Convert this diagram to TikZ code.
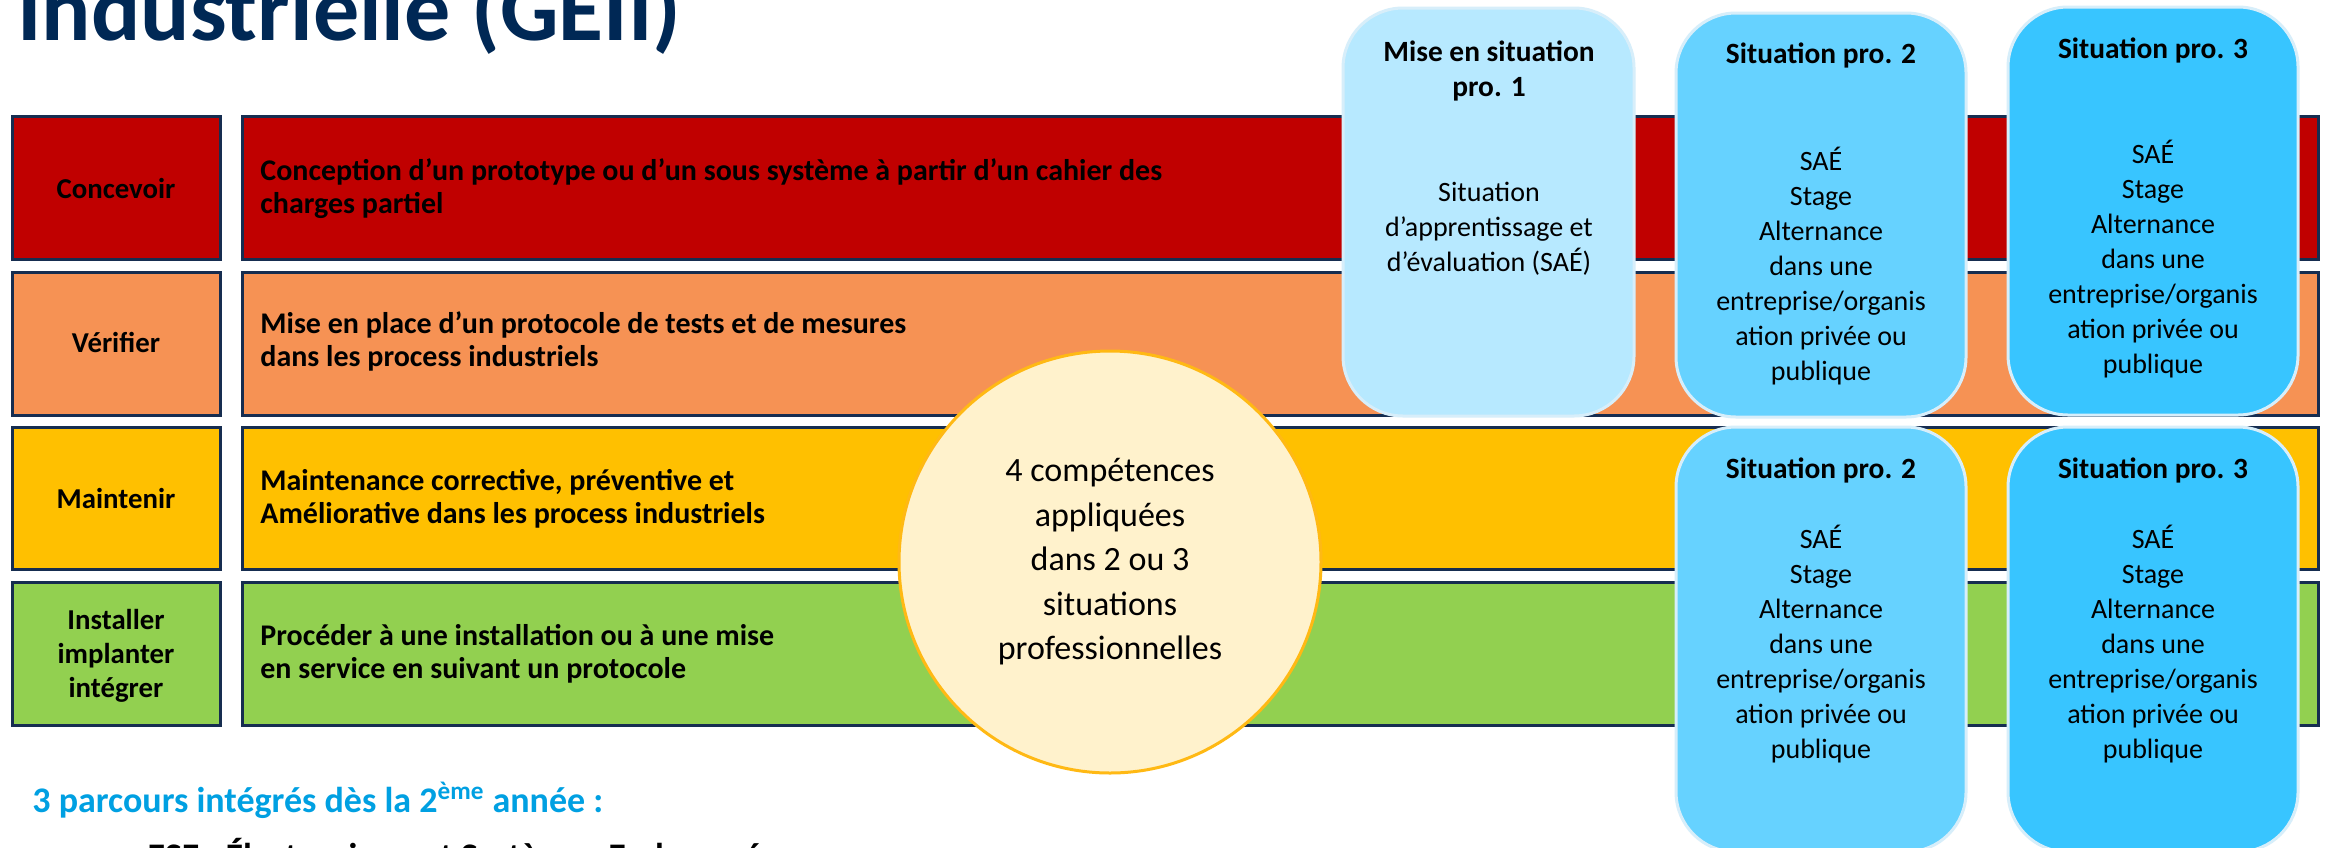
\documentclass[tikz,border=0pt]{standalone}
\usepackage{fontspec}
\setmainfont{Carlito}
\usetikzlibrary{fit}
\definecolor{navy}{RGB}{0,40,85}
\definecolor{bordc}{RGB}{22,45,80}
\definecolor{cred}{RGB}{192,0,0}
\definecolor{corange}{RGB}{246,146,84}
\definecolor{cyellow}{RGB}{255,192,0}
\definecolor{cgreen}{RGB}{146,208,80}
\definecolor{circfill}{RGB}{255,242,204}
\definecolor{circline}{RGB}{255,185,20}
\definecolor{sitA}{RGB}{183,233,255}
\definecolor{sitB}{RGB}{102,210,255}
\definecolor{sitC}{RGB}{56,197,255}
\definecolor{sitline}{RGB}{215,238,250}
\definecolor{bluetxt}{RGB}{0,160,226}
\begin{document}
\begin{tikzpicture}[x=0.5pt,y=-0.5pt,
  barbox/.style={draw=bordc, line width=1.5pt, inner sep=0pt},
  bartext/.style={anchor=base west, inner sep=0pt, align=left, font=\bfseries\fontsize{15}{16.5}\selectfont},
  lbltext/.style={anchor=base, inner sep=0pt, align=center, font=\bfseries\fontsize{14.4}{17}\selectfont},
  sitbox/.style={draw=sitline, line width=1.5pt, inner sep=0pt, rounded corners=30pt},
  sithead/.style={anchor=base, inner sep=0pt, align=center, font=\bfseries\fontsize{14.7}{17.5}\selectfont},
  sitbody/.style={anchor=base, inner sep=0pt, align=center, font=\fontsize{14}{17.5}\selectfont},
  bottomtext/.style={anchor=base west, inner sep=0pt, font=\bfseries\fontsize{18}{21}\selectfont}
]
\useasboundingbox (0,0) rectangle (2328,847);
\fill[white] (0,0) rectangle (2328,847);

% title
\node[anchor=base west, inner sep=0pt, text=navy, font=\bfseries\fontsize{46}{52}\selectfont] (title) at (17,40) {Industrielle (GEII)};

% rows
\node[barbox, fill=cred, fit={(12,116) (220,259)}] (lc) {};
\node[barbox, fill=cred, fit={(242,116) (2318,259)}] (mc) {};
\node[barbox, fill=corange, fit={(12,272) (220,415)}] (lv) {};
\node[barbox, fill=corange, fit={(242,272) (2318,415)}] (mv) {};
\node[barbox, fill=cyellow, fit={(12,427) (220,569)}] (lm) {};
\node[barbox, fill=cyellow, fit={(242,427) (2318,569)}] (mm) {};
\node[barbox, fill=cgreen, fit={(12,582) (220,725)}] (li) {};
\node[barbox, fill=cgreen, fit={(242,582) (2318,725)}] (mi) {};

\node[lbltext] (tlc) at (116,198) {Concevoir};
\node[lbltext] (tlv) at (116,352) {Vérifier};
\node[lbltext] (tlm) at (116,508) {Maintenir};
\node[lbltext] (tli) at (116,697) {Installer\\implanter\\intégrer};

\node[bartext] (tmc) at (260,213) {Conception d’un prototype ou d’un sous système à partir d’un cahier des\\charges partiel};
\node[bartext] (tmv) at (260,366) {Mise en place d’un protocole de tests et de mesures\\dans les process industriels};
\node[bartext] (tmm) at (260,523) {Maintenance corrective, préventive et\\Améliorative dans les process industriels};
\node[bartext] (tmi) at (260,678) {Procéder à une installation ou à une mise\\en service en suivant un protocole};

% circle
\node[circle, draw=circline, line width=1.5pt, fill=circfill, minimum size=211pt, inner sep=0pt, align=center, font=\fontsize{17}{22.25}\selectfont] (circ) at (1110,562) {4 compétences\\appliquées\\dans 2 ou 3\\situations\\professionnelles};

% situation boxes
\node[sitbox, fill=sitA, fit={(1343,8) (1634,416)}] (s1) {};
\node[sithead] (s1h) at (1489,96) {Mise en situation\\pro. 1};
\node[sitbody] (s1b) at (1489,271) {Situation\\d’apprentissage et\\d’évaluation (SAÉ)};

\node[sitbox, fill=sitB, fit={(1676,13) (1966,417)}] (s2) {};
\node[sithead] (s2h) at (1821,63) {Situation pro. 2};
\node[sitbody] (s2b) at (1821,380) {SAÉ\\Stage\\Alternance\\dans une\\entreprise/organis\\ation privée ou\\publique};

\node[sitbox, fill=sitC, fit={(2008,7) (2298,415)}] (s3) {};
\node[sithead] (s3h) at (2153,58) {Situation pro. 3};
\node[sitbody] (s3b) at (2153,373) {SAÉ\\Stage\\Alternance\\dans une\\entreprise/organis\\ation privée ou\\publique};

\node[sitbox, fill=sitB, fit={(1676,427) (1966,852)}] (s4) {};
\node[sithead] (s4h) at (1821,478) {Situation pro. 2};
\node[sitbody] (s4b) at (1821,758) {SAÉ\\Stage\\Alternance\\dans une\\entreprise/organis\\ation privée ou\\publique};

\node[sitbox, fill=sitC, fit={(2008,427) (2298,852)}] (s5) {};
\node[sithead] (s5h) at (2153,478) {Situation pro. 3};
\node[sitbody] (s5b) at (2153,758) {SAÉ\\Stage\\Alternance\\dans une\\entreprise/organis\\ation privée ou\\publique};

% bottom text
\node[bottomtext, text=bluetxt] (p1) at (32,812) {3 parcours intégrés dès la 2\textsuperscript{ème} année :};
\node[bottomtext] (p2) at (128,868) {\textcolor{bluetxt}{-} ESE : Électronique et Systèmes Embarqués};
\end{tikzpicture}
\end{document}
